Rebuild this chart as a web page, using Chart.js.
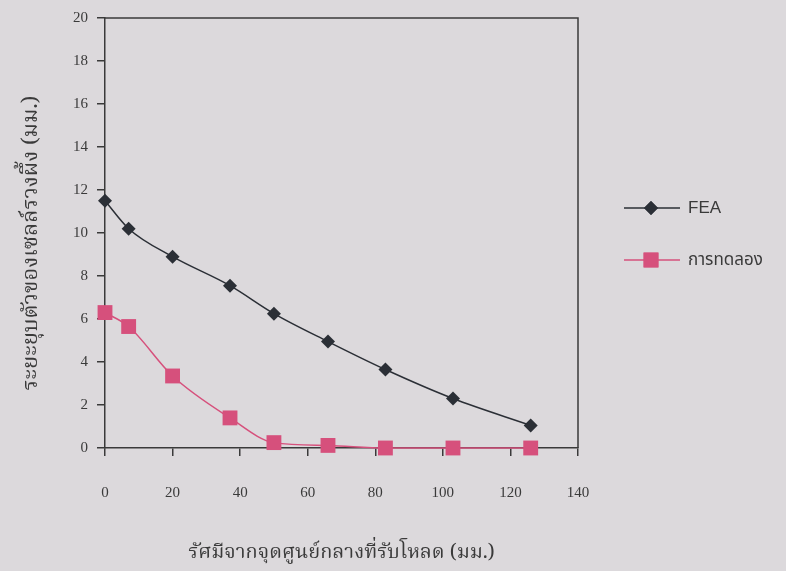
<!DOCTYPE html>
<html><head><meta charset="utf-8">
<script src="https://cdn.jsdelivr.net/npm/chart.js@4.4.0/dist/chart.umd.min.js"></script>
<style>
html,body{margin:0;padding:0;background:#dcd9dc;}
#wrap{width:786px;height:571px;position:relative;}
</style></head><body>
<div id="wrap"><canvas id="c" width="786" height="571"></canvas></div>
<script>
const feaX = [0, 7, 20, 37, 50, 66, 83, 103, 126];
const feaY = [11.5, 10.2, 8.9, 7.55, 6.25, 4.95, 3.65, 2.3, 1.05];
const expX = [0, 7, 20, 37, 50, 66, 83, 103, 126];
const expY = [6.3, 5.65, 3.35, 1.4, 0.25, 0.12, 0.0, 0.0, 0.0];
const seriesNames = ['FEA', 'การทดลอง'];
const xTitle = 'รัศมีจากจุดศูนย์กลางที่รับโหลด (มม.)';
const yTitle = 'ระยะยุบตัวของเซลล์รวงผึ้ง (มม.)';

const thaiSerif = '"Noto Serif Thai","Norasi","Laksaman","TH Sarabun New","Noto Sans Thai","Liberation Serif",serif';
const sansFont = '"Liberation Sans","Noto Sans Thai","Noto Sans",sans-serif';
const serifFont = '"Liberation Serif","DejaVu Serif",serif';

const frame = {
  id: 'frame',
  afterDraw(chart) {
    const {ctx, chartArea: a} = chart;
    ctx.save();
    ctx.strokeStyle = '#3a3a3a';
    ctx.lineWidth = 1.5;
    ctx.beginPath();
    ctx.moveTo(a.left, a.top); ctx.lineTo(a.right, a.top); ctx.lineTo(a.right, a.bottom);
    ctx.stroke();
    // y axis title
    ctx.save();
    ctx.translate(33, 243);
    ctx.rotate(-Math.PI / 2);
    ctx.fillStyle = '#3a3a3a';
    ctx.font = '22px ' + thaiSerif;
    ctx.textAlign = 'center';
    ctx.textBaseline = 'middle';
    ctx.fillText(yTitle, 0, 0);
    ctx.restore();
    // legend
    const items = [
      {name: seriesNames[0], color: '#2b2f36', style: 'rectRot', r: 7, y: 208},
      {name: seriesNames[1], color: '#d6507c', style: 'rect', r: 10.5, y: 260}
    ];
    items.forEach(it => {
      ctx.strokeStyle = it.color; ctx.lineWidth = 1.5;
      ctx.beginPath(); ctx.moveTo(624, it.y); ctx.lineTo(680, it.y); ctx.stroke();
      ctx.fillStyle = it.color;
      Chart.helpers.drawPoint(ctx, {pointStyle: it.style, radius: it.r, borderWidth: 0}, 651, it.y);
      ctx.fill();
      ctx.fillStyle = '#3a3a3a';
      ctx.font = '17px ' + sansFont;
      ctx.textBaseline = 'middle';
      ctx.textAlign = 'left';
      ctx.fillText(it.name, 688, it.y);
    });
    ctx.restore();
  }
};

new Chart(document.getElementById('c'), {
  type: 'line',
  data: {
    datasets: [
      {label: seriesNames[0], data: feaX.map((x, i) => ({x, y: feaY[i]})),
       borderColor: '#2b2f36', backgroundColor: '#2b2f36', borderWidth: 1.5, clip: false,
       pointStyle: 'rectRot', pointRadius: 7, pointBorderWidth: 0, cubicInterpolationMode: 'monotone'},
      {label: seriesNames[1], data: expX.map((x, i) => ({x, y: expY[i]})),
       borderColor: '#d6507c', backgroundColor: '#d6507c', borderWidth: 1.5, clip: false,
       pointStyle: 'rect', pointRadius: 10.5, pointBorderWidth: 0, cubicInterpolationMode: 'monotone'}
    ]
  },
  options: {
    responsive: false, animation: false,
    layout: {padding: {top: 15, right: 208, bottom: 4, left: 0}},
    plugins: {legend: {display: false}, tooltip: {enabled: false}},
    scales: {
      x: {type: 'linear', min: 0, max: 140,
        ticks: {stepSize: 20, color: '#3a3a3a', font: {family: serifFont, size: 15}, padding: 28, maxRotation: 0},
        grid: {drawOnChartArea: false, drawTicks: true, tickLength: 8, color: '#3a3a3a', lineWidth: 1.5},
        border: {color: '#3a3a3a', width: 1.5},
        title: {display: true, text: xTitle, color: '#3a3a3a', font: {family: thaiSerif, size: 20}, padding: {top: 10, bottom: 0}},
        afterFit(s) { s.height = 119; }
      },
      y: {min: 0, max: 20,
        ticks: {stepSize: 2, color: '#3a3a3a', font: {family: serifFont, size: 15}, padding: 9},
        grid: {drawOnChartArea: false, drawTicks: true, tickLength: 8, color: '#3a3a3a', lineWidth: 1.5},
        border: {color: '#3a3a3a', width: 1.5},
        title: {display: false},
        afterFit(s) { s.width = 105; }
      }
    }
  },
  plugins: [frame]
});
</script>
</body></html>
